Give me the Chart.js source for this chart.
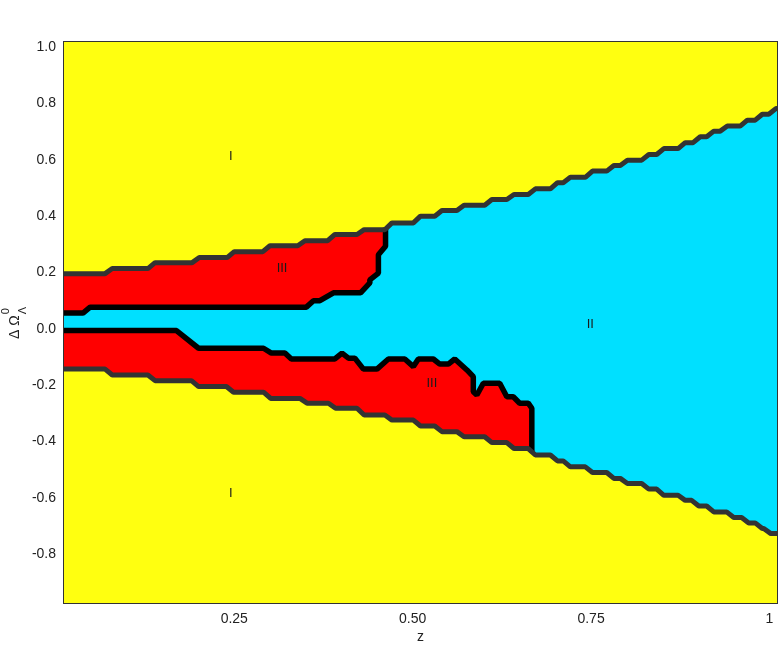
<!DOCTYPE html>
<html><head><meta charset="utf-8">
<script src="https://cdn.jsdelivr.net/npm/chart.js@4.4.1/dist/chart.umd.min.js"></script>
<style>html,body{margin:0;padding:0;background:#fff}#wrap{width:781px;height:650px}</style>
</head><body><div id="wrap"><canvas id="c" width="781" height="650"></canvas></div>
<script>
// ---- data ----
const xTickValues = [0.25, 0.5, 0.75, 1];
const xTickLabels = ['0.25', '0.50', '0.75', '1'];
const yTickValues = [-0.8, -0.6, -0.4, -0.2, 0, 0.2, 0.4, 0.6, 0.8, 1.0];
const yTickLabels = ['-0.8', '-0.6', '-0.4', '-0.2', '0.0', '0.2', '0.4', '0.6', '0.8', '1.0'];

// upper edge of the wedge (region I / regions II,III): z where each step starts, level of each flat
const upperStepZ = [0.069,0.129,0.191,0.240,0.290,0.339,0.381,0.422,0.461,0.501,0.531,0.562,0.601,0.632,0.662,0.693,0.711,0.742,0.772,0.791,0.821,0.842,0.872,0.893,0.912,0.931,0.959,0.980,0.999];
const upperLevels = [0.196,0.214,0.235,0.253,0.274,0.295,0.313,0.335,0.352,0.376,0.400,0.420,0.439,0.459,0.477,0.497,0.519,0.538,0.560,0.580,0.599,0.619,0.640,0.661,0.682,0.702,0.720,0.741,0.762,0.782];
// lower edge of the wedge
const lowerStepZ = [0.069,0.129,0.190,0.239,0.291,0.342,0.382,0.422,0.461,0.501,0.531,0.562,0.601,0.632,0.662,0.693,0.711,0.742,0.772,0.791,0.821,0.842,0.872,0.891,0.912,0.940,0.961,0.980,0.992];
const lowerLevels = [-0.143,-0.164,-0.184,-0.205,-0.225,-0.247,-0.264,-0.282,-0.306,-0.324,-0.345,-0.365,-0.383,-0.404,-0.425,-0.448,-0.469,-0.490,-0.510,-0.531,-0.549,-0.569,-0.591,-0.609,-0.629,-0.650,-0.670,-0.689,-0.709,-0.727];

// boundary between upper region III and region II  [z, ΔΩ]
const upperRedEdge = [[0,0.056],[0.038,0.056],[0.048,0.077],[0.351,0.077],[0.361,0.100],[0.370,0.100],[0.389,0.128],[0.427,0.128],[0.440,0.163],[0.440,0.174],[0.452,0.198],[0.452,0.263],[0.462,0.293],[0.462,0.360]];
// boundary between lower region III and region II
const lowerRedEdge = [[0,-0.006],[0.169,-0.006],[0.200,-0.069],[0.291,-0.069],[0.302,-0.086],[0.321,-0.086],[0.330,-0.107],[0.391,-0.107],[0.401,-0.086],[0.410,-0.104],[0.419,-0.104],[0.431,-0.143],[0.450,-0.143],[0.466,-0.107],[0.489,-0.107],[0.501,-0.134],[0.508,-0.107],[0.529,-0.107],[0.538,-0.125],[0.550,-0.125],[0.559,-0.107],[0.576,-0.146],[0.585,-0.170],[0.585,-0.223],[0.590,-0.235],[0.599,-0.193],[0.622,-0.193],[0.632,-0.241],[0.641,-0.241],[0.650,-0.264],[0.662,-0.264],[0.667,-0.282],[0.667,-0.440]];

const regionLabels = ['I', 'III', 'II', 'III', 'I'];
const labelZ = [0.245, 0.317, 0.749, 0.527, 0.245];
const labelY = [0.611, 0.213, 0.014, -0.195, -0.586];

// ---- build point lists ----
function staircase(stepZ, levels, z0, z1) {
  const pts = [{x: z0, y: levels[0]}];
  stepZ.forEach((s, i) => {
    pts.push({x: s, y: levels[i]});
    pts.push({x: Math.min(s + 0.01, z1), y: levels[i + 1]});
  });
  pts.push({x: z1, y: levels[levels.length - 1]});
  return pts;
}
const toPts = arr => arr.map(p => ({x: p[0], y: p[1]}));
const upperEdge = staircase(upperStepZ, upperLevels, 0, 1.03);
const lowerEdge = staircase(lowerStepZ, lowerLevels, 0, 1.03);
const upRed = toPts(upperRedEdge);
const loRed = toPts(lowerRedEdge);

const wedge = upperEdge.concat(lowerEdge.slice().reverse());
const upperRedPoly = upperEdge.filter(p => p.x < upRed[upRed.length - 1].x).concat(upRed.slice().reverse());
const lowerRedPoly = lowerEdge.filter(p => p.x < loRed[loRed.length - 1].x).concat(loRed.slice().reverse());

const YELLOW = '#ffff10', CYAN = '#00e0ff', RED = '#ff0000';

function area(data, color, order) {
  return {data, backgroundColor: color, borderWidth: 0, pointRadius: 0, fill: 'shape', order};
}
function edge(data, color, width, order) {
  return {data, borderColor: color, borderWidth: width, pointRadius: 0, fill: false, order,
          borderJoinStyle: 'bevel', borderCapStyle: 'butt'};
}

const bgPlugin = {
  id: 'bg',
  beforeDatasetsDraw(chart) {
    const {ctx, chartArea: a} = chart;
    ctx.save(); ctx.fillStyle = YELLOW;
    ctx.fillRect(a.left, a.top, a.right - a.left, a.bottom - a.top);
    ctx.restore();
  },
  afterDatasetsDraw(chart) {
    const {ctx, chartArea: a, scales} = chart;
    ctx.save();
    ctx.strokeStyle = '#333'; ctx.lineWidth = 1;
    ctx.strokeRect(a.left + 0.5, a.top + 0.5, a.right - a.left - 1, a.bottom - a.top - 1);
    ctx.fillStyle = '#1a1a1a';
    ctx.font = '13px "Liberation Sans", Arial, sans-serif';
    ctx.textAlign = 'center'; ctx.textBaseline = 'middle';
    regionLabels.forEach((t, i) => {
      ctx.fillText(t, scales.x.getPixelForValue(labelZ[i]), scales.y.getPixelForValue(labelY[i]));
    });
    // y axis title: Δ Ω with superscript 0 and subscript Λ
    ctx.translate(15, 322);
    ctx.rotate(-Math.PI / 2);
    ctx.textAlign = 'left';
    ctx.font = '14px "Liberation Sans", Arial, sans-serif';
    ctx.fillStyle = '#222';
    const base = 'Δ Ω';
    const w = ctx.measureText(base).width;
    const u0 = -17;
    ctx.fillText(base, u0, 0);
    ctx.font = '11px "Liberation Sans", Arial, sans-serif';
    ctx.fillText('0', u0 + w + 1, -9);
    ctx.fillText('Λ', u0 + w + 1, 8);
    ctx.restore();
  }
};

new Chart(document.getElementById('c'), {
  type: 'line',
  data: {
    datasets: [
      area(wedge, CYAN, 10),
      area(upperRedPoly, RED, 9),
      area(lowerRedPoly, RED, 9),
      edge(upRed, '#000', 5.5, 2),
      edge(loRed, '#000', 5.5, 2),
      edge(upperEdge, '#333', 5, 1),
      edge(lowerEdge, '#333', 5, 1)
    ]
  },
  options: {
    responsive: false,
    animation: false,
    devicePixelRatio: 1,
    layout: {padding: {top: 41, right: 3, left: 0, bottom: 0}},
    plugins: {legend: {display: false}, tooltip: {enabled: false}},
    scales: {
      x: {
        type: 'linear', min: 0.01, max: 1.012,
        grid: {display: false, drawTicks: false}, border: {display: false},
        afterBuildTicks: s => { s.ticks = xTickValues.map(v => ({value: v})); },
        afterFit: s => { s.height = 46; },
        ticks: {
          autoSkip: false, maxRotation: 0, padding: 7, color: '#222',
          font: {size: 14, family: '"Liberation Sans", Arial, sans-serif'},
          callback: (v, i) => xTickLabels[i]
        },
        title: {display: true, text: 'z', color: '#222', padding: {top: 2, bottom: 4},
                font: {size: 14, family: '"Liberation Sans", Arial, sans-serif'}}
      },
      y: {
        type: 'linear', min: -0.977, max: 1.022,
        grid: {display: false, drawTicks: false}, border: {display: false},
        afterBuildTicks: s => { s.ticks = yTickValues.map(v => ({value: v})); },
        afterFit: s => { s.width = 63; },
        ticks: {
          autoSkip: false, padding: 7, color: '#222',
          font: {size: 14, family: '"Liberation Sans", Arial, sans-serif'},
          callback: (v, i) => yTickLabels[i]
        }
      }
    }
  },
  plugins: [bgPlugin]
});
</script>
</body></html>
